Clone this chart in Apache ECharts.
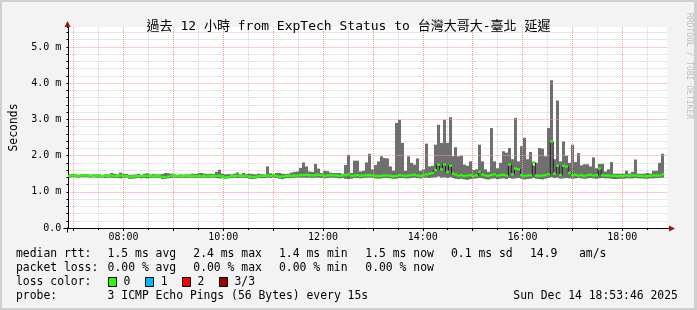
<!DOCTYPE html>
<html><head><meta charset="utf-8">
<script src="https://cdn.jsdelivr.net/npm/echarts@6.0.0/dist/echarts.min.js"></script>
<style>html,body{margin:0;padding:0;background:#f3f3f3}#c{width:697px;height:310px}</style>
</head><body><div id="c"></div>
<script>
// ---- data (hours of day, latency in ms) ----
const startHour = 6.8961;   // 06:53:46
const endHour = 18.8961;    // 18:53:46
const binHours = 0.06;      // width of one consolidated step
const smokeHi = [
1.48,1.49,1.48,1.47,1.48,1.48,1.49,1.47,1.48,1.48,
1.48,1.47,1.48,1.48,1.52,1.50,1.48,1.53,1.50,1.49,
1.47,1.47,1.48,1.49,1.47,1.50,1.51,1.48,1.49,1.48,
1.48,1.49,1.52,1.51,1.50,1.48,1.47,1.48,1.47,1.48,
1.48,1.50,1.49,1.51,1.52,1.50,1.49,1.50,1.49,1.55,
1.61,1.50,1.48,1.49,1.48,1.50,1.53,1.48,1.52,1.49,
1.50,1.49,1.48,1.50,1.49,1.48,1.70,1.51,1.49,1.52,
1.52,1.50,1.49,1.50,1.53,1.55,1.56,1.66,1.81,1.70,
1.56,1.55,1.77,1.64,1.52,1.58,1.57,1.53,1.52,1.52,
1.52,1.50,1.74,2.02,1.52,1.86,1.86,1.56,1.58,1.81,
2.05,1.62,1.74,1.84,1.98,1.93,1.92,1.70,1.58,2.90,
2.99,2.35,1.58,1.98,1.80,1.75,1.92,1.58,1.62,2.33,
1.70,1.72,2.30,2.85,2.35,2.99,2.35,3.06,1.98,2.23,
1.98,2.00,1.75,1.72,1.84,1.60,1.62,2.30,1.84,1.62,
1.55,2.76,1.84,1.65,1.80,2.12,2.08,2.21,1.90,3.04,
1.84,2.26,2.49,1.90,2.10,1.72,1.80,2.21,2.19,1.98,
2.76,4.08,1.90,3.52,1.84,2.39,2.00,1.80,2.30,1.82,
2.07,1.73,1.76,1.76,1.70,1.95,1.65,1.77,1.77,1.56,
1.62,1.82,1.50,1.50,1.50,1.50,1.58,1.50,1.55,1.89,
1.50,1.50,1.50,1.52,1.50,1.58,1.58,1.80,2.05,null];
const smokeLo = [
1.39,1.40,1.40,1.39,1.40,1.40,1.40,1.39,1.40,1.39,
1.39,1.39,1.38,1.39,1.39,1.38,1.38,1.37,1.38,1.39,
1.36,1.36,1.37,1.38,1.37,1.38,1.37,1.38,1.39,1.38,
1.38,1.35,1.36,1.37,1.38,1.39,1.38,1.39,1.39,1.38,
1.39,1.39,1.38,1.39,1.38,1.39,1.38,1.39,1.39,1.38,
1.37,1.37,1.36,1.37,1.38,1.39,1.38,1.38,1.39,1.38,
1.36,1.35,1.36,1.38,1.38,1.38,1.39,1.38,1.39,1.38,
1.36,1.35,1.37,1.38,1.38,1.39,1.39,1.39,1.39,1.39,
1.39,1.38,1.39,1.39,1.38,1.37,1.38,1.39,1.39,1.38,
1.37,1.38,1.36,1.35,1.36,1.38,1.38,1.37,1.38,1.39,
1.39,1.38,1.37,1.36,1.37,1.38,1.38,1.37,1.36,1.36,
1.38,1.38,1.37,1.37,1.38,1.39,1.38,1.37,1.38,1.39,
1.38,1.39,1.40,1.42,1.39,1.40,1.38,1.40,1.38,1.36,
1.35,1.36,1.34,1.33,1.35,1.36,1.37,1.38,1.37,1.35,
1.34,1.36,1.37,1.35,1.36,1.37,1.35,1.38,1.36,1.37,
1.38,1.36,1.34,1.35,1.36,1.38,1.36,1.35,1.34,1.36,
1.38,1.40,1.38,1.39,1.36,1.37,1.38,1.37,1.36,1.37,
1.38,1.37,1.36,1.37,1.38,1.37,1.36,1.37,1.38,1.37,
1.37,1.36,1.35,1.35,1.36,1.36,1.37,1.37,1.37,1.38,
1.37,1.37,1.36,1.36,1.37,1.37,1.38,1.38,1.39,null];
const median = [
1.44,1.45,1.45,1.44,1.45,1.45,1.45,1.44,1.44,1.44,
1.44,1.43,1.44,1.44,1.45,1.44,1.43,1.45,1.44,1.43,
1.42,1.42,1.43,1.43,1.43,1.44,1.44,1.43,1.44,1.43,
1.43,1.41,1.40,1.42,1.44,1.44,1.43,1.44,1.44,1.43,
1.44,1.44,1.43,1.44,1.43,1.44,1.43,1.44,1.44,1.44,
1.44,1.42,1.40,1.41,1.43,1.44,1.44,1.43,1.44,1.44,
1.42,1.41,1.41,1.43,1.44,1.44,1.45,1.44,1.45,1.44,
1.42,1.42,1.43,1.44,1.44,1.45,1.45,1.46,1.46,1.47,
1.46,1.45,1.46,1.47,1.46,1.44,1.45,1.46,1.46,1.45,
1.44,1.45,1.46,1.48,1.44,1.45,1.46,1.44,1.45,1.46,
1.46,1.45,1.44,1.43,1.44,1.45,1.45,1.44,1.43,1.44,
1.46,1.45,1.44,1.45,1.46,1.47,1.45,1.44,1.45,1.48,
1.50,1.52,1.60,1.75,1.62,1.75,1.55,1.72,1.50,1.48,
1.45,1.46,1.44,1.45,1.46,1.44,1.45,1.55,1.48,1.45,
1.44,1.46,1.48,1.45,1.46,1.47,1.45,1.75,1.48,1.64,
1.62,1.46,1.44,1.45,1.46,1.81,1.45,1.44,1.45,1.46,
1.48,2.39,1.50,1.72,1.46,1.72,1.70,1.52,1.46,1.47,
1.45,1.46,1.44,1.46,1.47,1.45,1.46,1.64,1.46,1.45,
1.45,1.44,1.44,1.43,1.44,1.44,1.45,1.44,1.45,1.45,
1.44,1.44,1.43,1.43,1.44,1.45,1.45,1.45,1.48,null];
const hourTicks = [7,8,9,10,11,12,13,14,15,16,17,18];
const halfHourTicks = [7.5,8.5,9.5,10.5,11.5,12.5,13.5,14.5,15.5,16.5,17.5,18.5];
const xLabelHours = [8,10,12,14,16,18];
const yMajorTicks = [0,1,2,3,4,5];
const yMinorTicks = [0.2,0.4,0.6,0.8,1.2,1.4,1.6,1.8,2.2,2.4,2.6,2.8,3.2,3.4,3.6,3.8,4.2,4.4,4.6,4.8,5.2,5.4];
const yTop = 5.55;
const titleText = '過去 12 小時 from ExpTech Status to 台灣大哥大-臺北 延遲';
const rttStats = ['1.5 ms avg','2.4 ms max','1.4 ms min','1.5 ms now','0.1 ms sd','14.9','am/s'];
const lossStats = ['0.00 % avg','0.00 % max','0.00 % min','0.00 % now'];
const lossLabels = ['0','1','2','3/3'];
const lossColors = ['#26ff00','#00b8ff','#ff0000','#a00000'];
const probeText = '3 ICMP Echo Pings (56 Bytes) every 15s';
const dateText = 'Sun Dec 14 18:53:46 2025';

// ---- build ----
const MONO = '"DejaVu Sans Mono", "Noto Sans CJK TC", monospace';
const smokeData = [], medData = [], medLine = [];
for (let i = 0; i < smokeHi.length; i++) {
  if (smokeHi[i] == null) continue;
  const t = startHour + i * binHours;
  smokeData.push([t, smokeLo[i], smokeHi[i]]);
  medData.push([t, median[i]]);
  medLine.push([t + binHours / 2, median[i]]);
}
const fmtHour = v => (v < 10 ? '0' : '') + Math.round(v) + ':00';
const fmtY = v => v === 0 ? '0.0' : v.toFixed(1) + ' m';

function renderSmoke(params, api) {
  const t = api.value(0);
  const a = api.coord([t, api.value(2)]);
  const b = api.coord([t + binHours, api.value(1)]);
  const x0 = Math.round(a[0]), x1 = Math.round(b[0]);
  return {type: 'rect', shape: {x: x0, y: a[1], width: x1 - x0, height: b[1] - a[1]},
          style: {fill: '#6f6f6f'}};
}
function renderMedian(params, api) {
  const t = api.value(0);
  const a = api.coord([t, api.value(1)]);
  const b = api.coord([t + binHours, api.value(1)]);
  const x0 = Math.round(a[0]), x1 = Math.round(b[0]);
  return {type: 'rect', shape: {x: x0, y: a[1] - 1.2, width: x1 - x0, height: 2.4},
          style: {fill: lossColors[0]}};
}

const gridRed = {color: '#f09a9a', width: 1, type: [1, 1]};
const gridGray = {color: '#d2d2d2', width: 1, type: [1, 1]};
const arrowRed = '#9a1515';

const graphics = [
  {type: 'rect', shape: {x: 0, y: 0, width: 697, height: 2}, style: {fill: '#cfcfcf'}, silent: true},
  {type: 'rect', shape: {x: 0, y: 0, width: 2, height: 310}, style: {fill: '#cfcfcf'}, silent: true},
  {type: 'rect', shape: {x: 694, y: 0, width: 3, height: 310}, style: {fill: '#cfcfcf'}, silent: true},
  {type: 'rect', shape: {x: 0, y: 308, width: 697, height: 2}, style: {fill: '#cfcfcf'}, silent: true},
  {type: 'text', x: 689, y: 13, rotation: -Math.PI / 2,
   style: {text: 'RRDTOOL / TOBI OETIKER', font: '8px ' + MONO, fill: '#bdbdbd', align: 'left', verticalAlign: 'middle'}}
];
const legFont = '11.4px ' + MONO;
function addText(txt, x, y) {
  graphics.push({type: 'text', x: x, y: y, style: {text: txt, font: legFont, fill: '#000', align: 'left', verticalAlign: 'middle'}});
}
const rowY = [254, 268, 282, 296];
const colX = [107.6, 193.3, 279, 365.3, 451, 530, 579];
addText('median rtt:', 16, rowY[0]);
rttStats.forEach((s, i) => addText(s, colX[i], rowY[0]));
addText('packet loss:', 16, rowY[1]);
lossStats.forEach((s, i) => addText(s, colX[i], rowY[1]));
addText('loss color:', 16, rowY[2]);
const boxX = [108, 145.3, 182, 219];
lossLabels.forEach((s, i) => {
  graphics.push({type: 'rect', shape: {x: Math.round(boxX[i]) + 0.5, y: 277.5, width: 8, height: 9},
                 style: {fill: lossColors[i], stroke: '#000', lineWidth: 1}});
  addText(s, boxX[i] + 15.5, rowY[2]);
});
addText('probe:', 16, rowY[3]);
addText(probeText, 107.6, rowY[3]);
addText(dateText, 513.3, rowY[3]);

const chart = echarts.init(document.getElementById('c'), null, {renderer: 'canvas'});
chart.setOption({
  animation: false,
  backgroundColor: '#f3f3f3',
  title: {text: titleText, left: 'center', top: 14,
          textStyle: {fontFamily: MONO, fontSize: 13, fontWeight: 'normal', color: '#000', lineHeight: 16}},
  grid: {left: 67, right: 30, top: 27, bottom: 82, show: true, backgroundColor: '#fff', borderWidth: 0},
  xAxis: [
    {type: 'value', min: startHour, max: endHour, position: 'bottom', z: 3,
     axisLine: {show: true, onZero: false, lineStyle: {color: '#000', width: 1}},
     axisTick: {show: true, customValues: hourTicks, length: 3, lineStyle: {color: '#000'}},
     axisLabel: {customValues: xLabelHours, formatter: fmtHour, fontFamily: MONO, fontSize: 10, color: '#000', margin: 4},
     splitLine: {show: true, lineStyle: gridRed}},
    {type: 'value', min: startHour, max: endHour, position: 'bottom', z: 1,
     axisLine: {show: false},
     axisTick: {show: true, customValues: halfHourTicks, length: 2, lineStyle: {color: '#000'}},
     axisLabel: {show: false},
     splitLine: {show: true, lineStyle: gridGray}}
  ],
  yAxis: [
    {type: 'value', min: 0, max: yTop, position: 'left', z: 3,
     name: 'Seconds', nameLocation: 'middle', nameGap: 49, nameRotate: 90,
     nameTextStyle: {fontFamily: MONO, fontSize: 11.4, color: '#000'},
     axisLine: {show: true, onZero: false, lineStyle: {color: '#000', width: 1}},
     axisTick: {show: true, customValues: yMajorTicks, length: 2, lineStyle: {color: '#000'}},
     axisLabel: {customValues: yMajorTicks, formatter: fmtY, fontFamily: MONO, fontSize: 10, color: '#000', margin: 7},
     splitLine: {show: true, lineStyle: gridRed}},
    {type: 'value', min: 0, max: yTop, position: 'left', z: 1,
     axisLine: {show: false},
     axisTick: {show: true, customValues: yMinorTicks, length: 2, lineStyle: {color: '#000'}},
     axisLabel: {show: false},
     splitLine: {show: true, lineStyle: gridGray}}
  ],
  series: [
    {type: 'custom', name: 'smoke', xAxisIndex: 0, yAxisIndex: 0, data: smokeData, renderItem: renderSmoke,
     encode: {x: 0, y: [1, 2]}, clip: true, z: 2, silent: true},
    {type: 'line', name: 'median', xAxisIndex: 0, yAxisIndex: 0, data: medLine, step: 'middle',
     symbol: 'none', lineStyle: {color: '#202020', width: 1}, z: 3, silent: true},
    {type: 'custom', name: 'loss 0', xAxisIndex: 0, yAxisIndex: 0, data: medData, renderItem: renderMedian,
     encode: {x: 0, y: 1}, clip: true, z: 4, silent: true}
  ],
  graphic: graphics
});

// axis arrows and axis-line overhangs, placed from the chart's own scales
const o = chart.convertToPixel({xAxisIndex: 0, yAxisIndex: 0}, [startHour, 0]);
const xr = chart.convertToPixel({xAxisIndex: 0}, endHour);
const yt = chart.convertToPixel({yAxisIndex: 0}, yTop);
const ax = Math.round(o[0]) - 0.5, ay = Math.round(o[1]) + 0.5;
const extra = [
  {type: 'line', shape: {x1: ax - 4, y1: ay, x2: ax + 1, y2: ay}, style: {stroke: '#000', lineWidth: 1}, z: 10},
  {type: 'line', shape: {x1: xr - 1, y1: ay, x2: xr + 3, y2: ay}, style: {stroke: '#000', lineWidth: 1}, z: 10},
  {type: 'line', shape: {x1: ax, y1: ay + 4, x2: ax, y2: ay - 1}, style: {stroke: '#000', lineWidth: 1}, z: 10},
  {type: 'polygon', shape: {points: [[xr + 2, ay - 3], [xr + 8, ay], [xr + 2, ay + 3]]}, style: {fill: arrowRed}, z: 10},
  {type: 'polygon', shape: {points: [[ax - 3, yt], [ax, yt - 6], [ax + 3, yt]]}, style: {fill: arrowRed}, z: 10},
  {type: 'line', shape: {x1: ax, y1: yt + 1, x2: ax, y2: yt}, style: {stroke: '#000', lineWidth: 1}, z: 10}
];
chart.setOption({graphic: graphics.concat(extra)});
</script></body></html>
